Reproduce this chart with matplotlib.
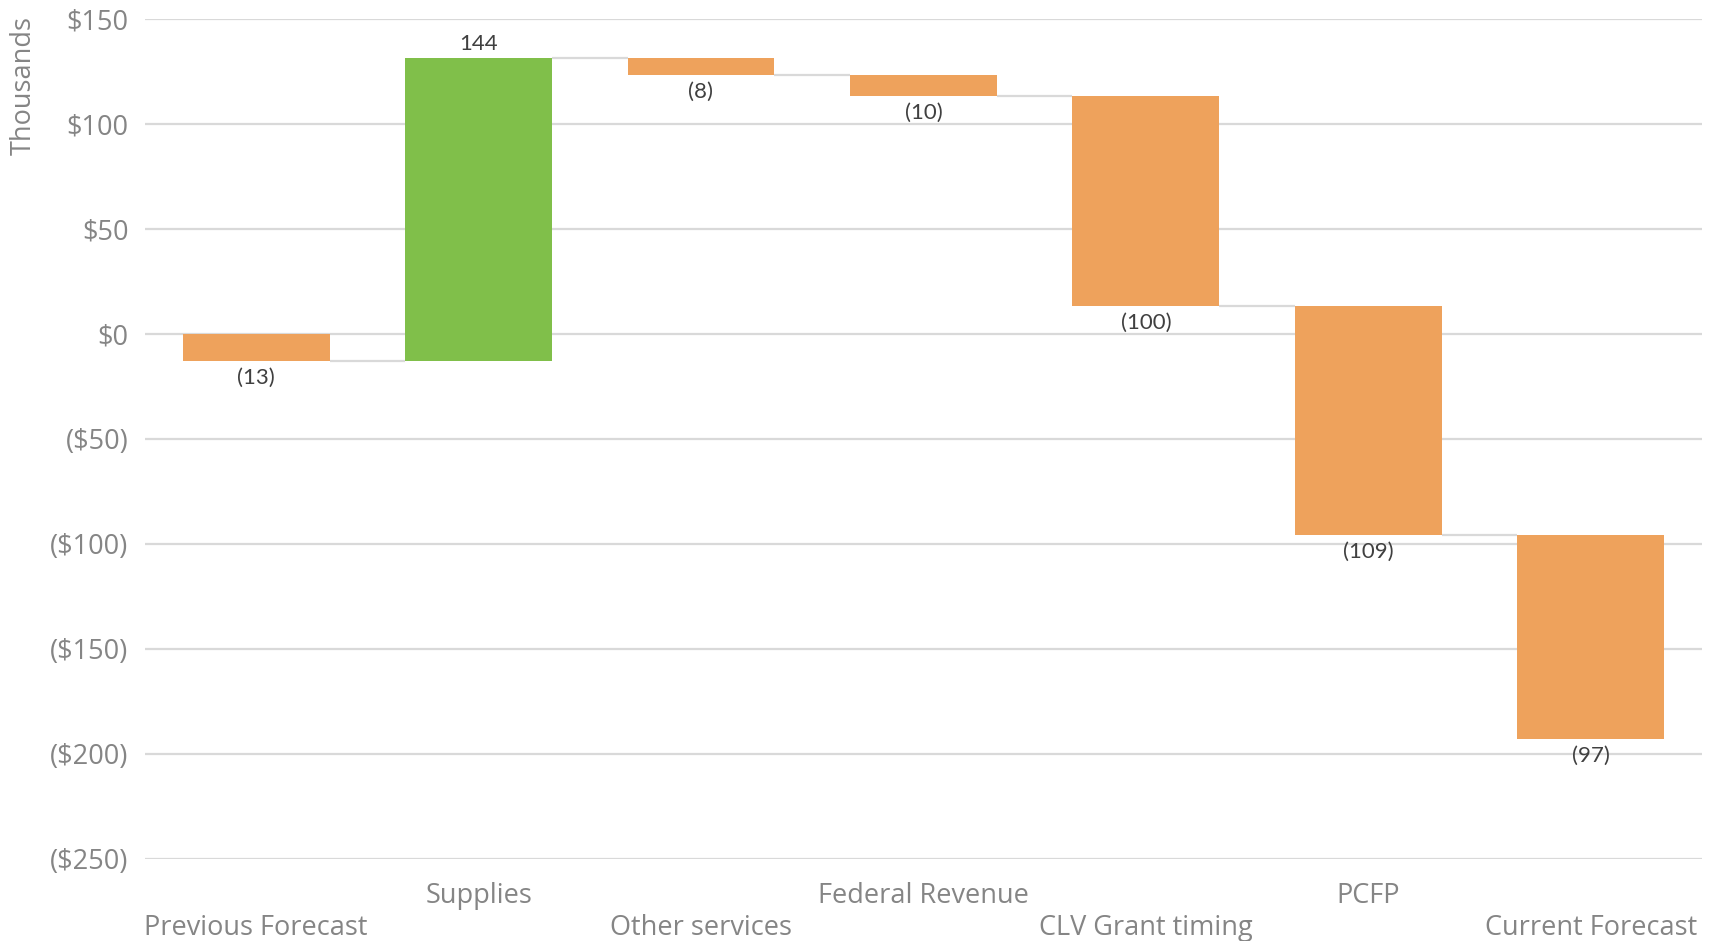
import numpy as np
import matplotlib
matplotlib.use("Agg")
import matplotlib.pyplot as plt
from matplotlib.ticker import FuncFormatter

# data (thousands of $)
categories = ["Previous Forecast", "Supplies", "Other services", "Federal Revenue",
              "CLV Grant timing", "PCFP", "Current Forecast"]
changes = [-13, 144, -8, -10, -100, -109, -97]

ORANGE = "#EEA25C"
GREEN = "#80BF4A"
GRID = "#D9D9D9"
TICK_COL = "#858585"
LABEL_COL = "#404040"

plt.rcParams['font.family'] = ['Open Sans', 'DejaVu Sans']

# running totals -> floating bars
ends = np.cumsum(changes)
starts = ends - np.array(changes)
bottoms = np.minimum(starts, ends)
heights = np.abs(changes)
colors = [GREEN if c > 0 else ORANGE for c in changes]

fig = plt.figure(figsize=(17.11, 9.41), dpi=100)
ax = fig.add_axes([0.0847, 0.0874, 0.91, 0.8929])

x = np.arange(len(categories))
width = 0.66
ax.bar(x, heights, bottom=bottoms, width=width, color=colors, zorder=3)

# connector lines between bars
for i in range(len(categories) - 1):
    ax.plot([x[i] + width / 2, x[i + 1] - width / 2], [ends[i], ends[i]],
            color=GRID, lw=1.6, zorder=2, solid_capstyle='butt')

# data labels
for i, c in enumerate(changes):
    txt = f"{c}" if c > 0 else f"({abs(c)})"
    if c > 0:
        ax.annotate(txt, (x[i], bottoms[i] + heights[i]), xytext=(0, 3),
                    textcoords='offset points', ha='center', va='bottom',
                    fontsize=16, color=LABEL_COL, family=['Lato', 'DejaVu Sans'])
    else:
        ax.annotate(txt, (x[i], bottoms[i]), xytext=(0, -5),
                    textcoords='offset points', ha='center', va='top',
                    fontsize=16, color=LABEL_COL, family=['Lato', 'DejaVu Sans'])

ax.set_xlim(-0.5, len(categories) - 0.5)
ax.set_ylim(-250, 150)
ax.set_yticks(np.arange(-250, 151, 50))


def money(v, pos):
    v = int(round(v))
    return f"${v}" if v >= 0 else f"(${abs(v)})"


ax.yaxis.set_major_formatter(FuncFormatter(money))
ax.grid(axis='y', color=GRID, lw=1.6, zorder=0)
ax.set_axisbelow(True)
for s in ax.spines.values():
    s.set_visible(False)

ax.set_xticks(x)
ax.set_xticklabels(categories)
ax.tick_params(axis='both', length=0, labelsize=19.5, labelcolor=TICK_COL)
ax.tick_params(axis='y', pad=12)
for i, t in enumerate(ax.xaxis.get_major_ticks()):
    t.set_pad(17 if i % 2 else 40)

fig.text(0.014, 0.909, "Thousands", rotation=90, ha='center', va='center',
         fontsize=19.5, color=TICK_COL)

fig.savefig("out.png", dpi=100)
